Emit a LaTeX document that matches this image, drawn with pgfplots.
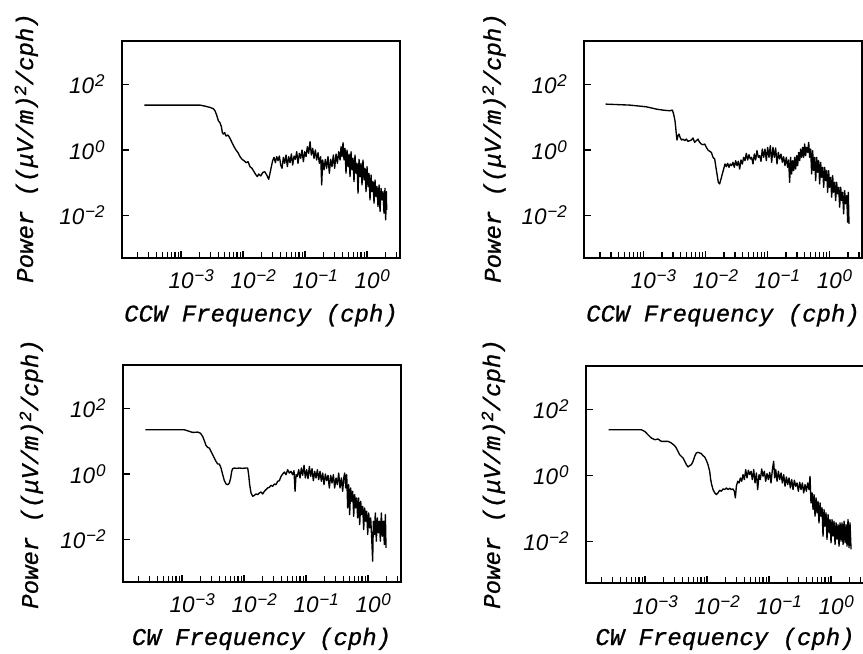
\documentclass[border=0pt]{standalone}
\usepackage{fontspec}
\setmainfont{Liberation Sans}
\newfontfamily\labfont{Liberation Mono}[FakeBold=0.9]
\usepackage{pgfplots}
\usepackage{pgfplotstable}
\pgfplotsset{compat=1.18}

\newcommand\xpw[1]{\mbox{\fontsize{22.5bp}{26bp}\selectfont\itshape 10\rlap{\kern0.8bp\raisebox{7bp}{\fontsize{17bp}{17bp}\selectfont #1}}}}
\newcommand\ypw[1]{\mbox{\fontsize{22.5bp}{26bp}\selectfont\itshape 10\kern0.8bp\raisebox{7bp}{\fontsize{17bp}{17bp}\selectfont #1}}}

\pgfplotsset{
  spec/.style={
    scale only axis, width=278bp, height=217bp, anchor=south west,
    xmin=-3.952, xmax=0.532, ymin=-3.27, ymax=3.32,
    axis line style={line width=1.7bp},
    tick pos=left, tick align=inside,
    xtick={-3,-2,-1,0},
    xticklabels={\xpw{−3},\xpw{−2},\xpw{−1},\xpw{0}},
    minor xtick={-3.699,-3.523,-3.398,-3.301,-3.222,-3.155,-3.097,-3.046,
                 -2.699,-2.523,-2.398,-2.301,-2.222,-2.155,-2.097,-2.046,
                 -1.699,-1.523,-1.398,-1.301,-1.222,-1.155,-1.097,-1.046,
                 -0.699,-0.523,-0.398,-0.301,-0.222,-0.155,-0.097,-0.046,
                 0.301,0.477},
    ytick={-2,0,2},
    yticklabels={\ypw{−2},\ypw{0},\ypw{2}},
    major tick length=7bp, minor tick length=6bp,
    every tick/.style={black, line width=1.2bp},
    xticklabel style={anchor=base},
    xticklabel shift=31bp,
    yticklabel style={anchor=base east, yshift=-9bp},
    yticklabel shift=14bp,
  },
  trace/.style={black, line width=1.35bp, line join=round},
}

% columns: lf = log10 frequency (cph), lp = log10 power
\pgfplotstableread{
lf lp
-3.591 1.364
-2.694 1.364
-2.613 1.333
-2.532 1.293
-2.478 1.253
-2.452 1.192
-2.425 1.061
-2.398 0.889
-2.371 0.828
-2.349 0.707
-2.333 0.525
-2.317 0.485
-2.296 0.525
-2.274 0.424
-2.242 0.455
-2.210 0.354
-2.177 0.222
-2.145 0.101
-2.113 0.000
-2.081 -0.081
-2.048 -0.202
-2.016 -0.283
-1.984 -0.323
-1.952 -0.384
-1.919 -0.354
-1.887 -0.505
-1.855 -0.556
-1.823 -0.657
-1.790 -0.758
-1.769 -0.808
-1.747 -0.727
-1.715 -0.788
-1.683 -0.687
-1.651 -0.657
-1.618 -0.758
-1.586 -0.889
-1.565 -0.707
-1.543 -0.505
-1.522 -0.323
-1.500 -0.222
-1.478 -0.384
-1.457 -0.202
-1.435 -0.323
-1.414 -0.182
-1.392 -0.455
-1.371 -0.556
-1.349 -0.222
-1.328 -0.404
-1.306 -0.152
-1.285 -0.505
-1.263 -0.202
-1.242 -0.384
-1.220 -0.121
-1.199 -0.455
-1.177 -0.182
-1.156 -0.283
-1.134 -0.051
-1.113 -0.404
-1.091 -0.101
-1.070 -0.253
-1.048 0.000
-1.027 -0.354
-1.005 -0.051
-0.984 -0.202
-0.962 0.101
-0.941 -0.101
-0.919 0.253
-0.898 -0.152
-0.876 0.051
-0.855 -0.253
-0.833 0.000
-0.812 -0.303
-0.790 -0.081
-0.769 -0.404
-0.747 -0.202
-0.731 -1.061
-0.715 -0.303
-0.694 -0.606
-0.672 -0.283
-0.651 -0.556
-0.629 -0.202
-0.608 -0.707
-0.586 -0.283
-0.565 -0.505
-0.543 -0.152
-0.522 -0.556
-0.500 -0.121
-0.478 -0.404
-0.457 -0.051
-0.435 -0.303
-0.419 0.101
-0.403 -0.202
-0.387 0.222
-0.371 -0.303
-0.355 0.051
-0.339 -0.707
-0.323 0.000
-0.306 -0.505
-0.290 -0.121
-0.274 -0.808
-0.258 -0.051
-0.242 -0.606
-0.226 -0.253
-0.210 -0.960
-0.194 -0.152
-0.177 -0.707
-0.161 -0.404
-0.145 -1.313
-0.129 -0.283
-0.113 -0.808
-0.097 -0.404
-0.081 -1.061
-0.065 -0.303
-0.048 -0.909
-0.032 -0.556
-0.016 -1.263
0.000 -0.505
0.016 -1.111
0.032 -0.707
0.048 -1.515
0.065 -0.758
0.081 -1.263
0.097 -0.960
0.113 -1.616
0.129 -0.909
0.145 -1.414
0.161 -1.111
0.177 -1.717
0.194 -1.061
0.210 -1.869
0.226 -1.162
0.242 -1.515
0.258 -1.263
0.274 -1.919
0.290 -1.162
0.301 -2.121
0.312 -1.263
0.317 -1.818
}\dataA

\pgfplotstableread{
lf lp
-3.608 1.394
-3.220 1.364
-2.952 1.313
-2.790 1.242
-2.683 1.212
-2.575 1.192
-2.532 1.212
-2.511 1.091
-2.489 0.889
-2.478 0.687
-2.468 0.485
-2.457 0.303
-2.441 0.434
-2.425 0.485
-2.403 0.364
-2.382 0.303
-2.360 0.333
-2.333 0.283
-2.306 0.333
-2.280 0.263
-2.253 0.283
-2.226 0.303
-2.199 0.364
-2.172 0.232
-2.145 0.283
-2.118 0.333
-2.091 0.232
-2.065 0.182
-2.038 0.162
-2.011 0.182
-1.984 0.081
-1.957 0.000
-1.930 -0.040
-1.903 -0.071
-1.876 -0.222
-1.849 -0.273
-1.833 -0.475
-1.812 -0.727
-1.790 -0.980
-1.769 -1.030
-1.747 -0.879
-1.726 -0.727
-1.704 -0.576
-1.683 -0.424
-1.661 -0.505
-1.640 -0.404
-1.618 -0.525
-1.597 -0.424
-1.575 -0.475
-1.554 -0.374
-1.532 -0.525
-1.511 -0.323
-1.489 -0.475
-1.468 -0.343
-1.446 -0.576
-1.425 -0.303
-1.403 -0.424
-1.382 -0.222
-1.360 -0.323
-1.339 -0.101
-1.317 -0.303
-1.296 -0.141
-1.274 -0.273
-1.253 -0.222
-1.231 -0.424
-1.210 -0.121
-1.188 -0.303
-1.167 -0.020
-1.145 -0.222
-1.124 -0.172
-1.102 -0.343
-1.081 0.030
-1.059 -0.222
-1.038 0.030
-1.016 -0.323
-0.995 0.081
-0.973 -0.222
-0.952 0.131
-0.930 -0.374
-0.909 0.081
-0.887 -0.222
-0.866 0.061
-0.844 -0.424
-0.823 -0.071
-0.801 -0.273
-0.780 -0.121
-0.758 -0.374
-0.737 -0.202
-0.715 -0.475
-0.694 -0.222
-0.672 -0.525
-0.656 -0.303
-0.640 -0.980
-0.624 -0.222
-0.608 -0.727
-0.591 -0.323
-0.575 -0.626
-0.559 -0.222
-0.543 -0.576
-0.527 -0.172
-0.511 -0.475
-0.495 -0.071
-0.478 -0.323
-0.462 0.030
-0.446 -0.222
-0.430 0.081
-0.414 -0.222
-0.398 0.182
-0.382 -0.172
-0.366 0.081
-0.349 -0.071
-0.333 0.232
-0.317 -0.222
-0.301 0.030
-0.285 -0.727
-0.269 -0.020
-0.253 -0.626
-0.237 -0.222
-0.220 -0.929
-0.204 -0.222
-0.188 -0.677
-0.172 -0.323
-0.156 -1.030
-0.140 -0.374
-0.124 -0.828
-0.108 -0.525
-0.091 -1.131
-0.075 -0.525
-0.059 -0.929
-0.043 -0.626
-0.027 -1.283
-0.011 -0.626
0.005 -1.131
0.022 -0.828
0.038 -1.434
0.054 -0.778
0.070 -1.283
0.086 -0.980
0.102 -1.535
0.118 -0.980
0.134 -1.333
0.151 -1.131
0.167 -1.737
0.183 -1.131
0.199 -1.535
0.215 -1.283
0.231 -1.939
0.247 -1.232
0.263 -1.636
0.280 -1.384
0.296 -2.192
0.306 -1.283
0.317 -2.242
}\dataB

\pgfplotstableread{
lf lp
-3.591 1.343
-2.962 1.343
-2.909 1.313
-2.828 1.263
-2.747 1.273
-2.704 1.242
-2.667 1.141
-2.640 1.010
-2.613 0.869
-2.586 0.808
-2.559 0.788
-2.532 0.687
-2.505 0.586
-2.478 0.485
-2.452 0.384
-2.425 0.303
-2.398 0.303
-2.371 0.182
-2.344 -0.020
-2.317 -0.202
-2.290 -0.303
-2.258 -0.323
-2.237 -0.273
-2.215 -0.121
-2.199 0.081
-2.183 0.162
-2.156 0.182
-2.118 0.172
-2.075 0.182
-2.022 0.172
-1.968 0.182
-1.941 0.182
-1.925 -0.020
-1.909 -0.323
-1.887 -0.576
-1.860 -0.677
-1.833 -0.646
-1.806 -0.606
-1.780 -0.626
-1.753 -0.576
-1.726 -0.545
-1.699 -0.606
-1.672 -0.525
-1.645 -0.475
-1.618 -0.424
-1.591 -0.404
-1.565 -0.343
-1.538 -0.374
-1.511 -0.303
-1.484 -0.323
-1.457 -0.222
-1.430 -0.202
-1.403 -0.071
-1.376 0.000
-1.349 0.061
-1.323 -0.020
-1.296 0.131
-1.269 0.030
-1.242 0.081
-1.215 -0.020
-1.194 0.101
-1.177 -0.525
-1.161 -0.020
-1.140 -0.071
-1.118 0.131
-1.097 -0.121
-1.075 0.182
-1.054 -0.040
-1.032 0.263
-1.011 -0.121
-0.989 0.131
-0.968 -0.141
-0.946 0.232
-0.925 -0.071
-0.903 0.162
-0.882 -0.202
-0.860 0.081
-0.839 -0.121
-0.817 0.131
-0.796 -0.172
-0.774 0.081
-0.753 -0.222
-0.731 0.030
-0.710 -0.323
-0.688 0.000
-0.667 -0.202
-0.645 -0.040
-0.624 -0.424
-0.602 -0.040
-0.581 -0.273
-0.559 -0.020
-0.538 -0.424
-0.516 -0.121
-0.495 -0.323
-0.473 0.030
-0.452 -0.424
-0.430 -0.121
-0.409 -0.525
-0.392 -0.121
-0.376 0.030
-0.360 -0.424
-0.344 -0.020
-0.328 -1.030
-0.312 -0.323
-0.296 -1.232
-0.280 -0.424
-0.263 -0.828
-0.247 -0.525
-0.231 -1.283
-0.215 -0.626
-0.199 -1.030
-0.183 -0.727
-0.167 -1.333
-0.151 -0.727
-0.134 -1.535
-0.118 -0.828
-0.102 -1.232
-0.086 -0.980
-0.070 -1.687
-0.054 -1.030
-0.038 -1.434
-0.022 -1.131
-0.005 -1.838
0.011 -1.182
0.027 -1.636
0.043 -1.333
0.059 -1.939
0.075 -2.646
0.086 -1.434
0.102 -1.838
0.118 -1.182
0.134 -2.040
0.151 -1.333
0.167 -1.788
0.183 -1.434
0.199 -2.040
0.215 -1.182
0.231 -1.889
0.247 -1.434
0.263 -2.141
0.280 -1.232
0.290 -2.242
}\dataC

\pgfplotstableread{
lf lp
-3.586 1.394
-3.059 1.394
-3.005 1.343
-2.952 1.242
-2.898 1.141
-2.844 1.091
-2.790 1.111
-2.737 1.040
-2.683 1.040
-2.629 1.040
-2.575 0.990
-2.522 0.909
-2.495 0.838
-2.468 0.737
-2.441 0.636
-2.414 0.586
-2.387 0.535
-2.360 0.434
-2.333 0.333
-2.306 0.263
-2.280 0.303
-2.253 0.333
-2.226 0.434
-2.199 0.586
-2.172 0.687
-2.145 0.707
-2.118 0.687
-2.091 0.667
-2.065 0.606
-2.038 0.566
-2.011 0.465
-1.984 0.333
-1.957 0.131
-1.941 -0.121
-1.925 -0.273
-1.903 -0.424
-1.876 -0.525
-1.849 -0.576
-1.823 -0.525
-1.796 -0.444
-1.769 -0.475
-1.742 -0.404
-1.715 -0.424
-1.688 -0.374
-1.661 -0.424
-1.634 -0.384
-1.608 -0.424
-1.581 -0.404
-1.559 -0.475
-1.543 -0.677
-1.527 -0.323
-1.505 -0.172
-1.484 -0.222
-1.462 -0.071
-1.441 -0.172
-1.419 0.030
-1.398 -0.121
-1.376 0.182
-1.355 -0.071
-1.333 0.162
-1.312 0.030
-1.290 0.131
-1.269 -0.121
-1.247 0.182
-1.226 -0.222
-1.204 0.081
-1.183 -0.424
-1.161 0.030
-1.140 -0.121
-1.118 0.202
-1.097 -0.020
-1.075 0.131
-1.054 -0.172
-1.032 0.061
-1.011 -0.121
-0.989 0.101
-0.968 -0.222
-0.946 0.182
-0.925 0.434
-0.909 -0.071
-0.892 0.182
-0.871 -0.172
-0.849 0.131
-0.828 -0.121
-0.806 0.081
-0.785 -0.222
-0.763 0.030
-0.742 -0.323
-0.720 -0.040
-0.699 -0.273
-0.677 -0.071
-0.656 -0.374
-0.634 -0.121
-0.613 -0.424
-0.591 -0.141
-0.570 -0.323
-0.548 -0.222
-0.527 -0.475
-0.505 -0.202
-0.484 -0.424
-0.462 -0.222
-0.441 -0.525
-0.419 -0.273
-0.398 -0.475
-0.376 -0.222
-0.355 -0.424
-0.339 -0.020
-0.323 -0.828
-0.306 -0.525
-0.290 -1.030
-0.274 -0.576
-0.258 -1.232
-0.242 -0.677
-0.226 -1.131
-0.210 -0.778
-0.194 -1.434
-0.177 -0.828
-0.161 -1.232
-0.145 -0.980
-0.129 -1.838
-0.113 -1.030
-0.097 -1.535
-0.081 -1.131
-0.065 -1.939
-0.048 -1.182
-0.032 -1.737
-0.016 -1.333
0.000 -2.040
0.016 -1.333
0.032 -1.838
0.048 -1.384
0.065 -2.091
0.081 -1.434
0.097 -1.939
0.113 -1.485
0.129 -2.141
0.145 -1.434
0.161 -1.990
0.177 -1.434
0.194 -2.091
0.210 -1.384
0.226 -2.040
0.242 -1.485
0.258 -2.141
0.274 -1.333
0.290 -2.192
0.306 -1.434
0.323 -2.242
}\dataD

\newcommand\ylab{Power ((μV/m)\raisebox{7bp}{\fontsize{17bp}{17bp}\selectfont 2}/cph)}

\begin{document}
\begin{tikzpicture}
\path[use as bounding box] (0bp,0bp) rectangle (863bp,654bp);

\begin{axis}[spec, at={(122bp,396.3bp)}]
  \addplot[trace] table[x=lf,y=lp]{\dataA};
\end{axis}
\begin{axis}[spec, at={(584.3bp,396.3bp)}]
  \addplot[trace] table[x=lf,y=lp]{\dataB};
\end{axis}
\begin{axis}[spec, at={(123bp,72.3bp)}]
  \addplot[trace] table[x=lf,y=lp]{\dataC};
\end{axis}
\begin{axis}[spec, at={(586bp,70.7bp)}]
  \addplot[trace] table[x=lf,y=lp]{\dataD};
\end{axis}

\tikzset{lab/.style={font=\labfont\fontsize{24bp}{28bp}\selectfont\itshape, inner sep=0pt}}
\node[lab, anchor=base] at (261bp,332.5bp) {CCW Frequency (cph)};
\node[lab, anchor=base] at (723bp,332.5bp) {CCW Frequency (cph)};
\node[lab, anchor=base] at (261.5bp,9bp) {CW Frequency (cph)};
\node[lab, anchor=base] at (725bp,9bp) {CW Frequency (cph)};

\node[lab, anchor=base, rotate=90] at (33bp,506bp) {\ylab};
\node[lab, anchor=base, rotate=90] at (500.7bp,506bp) {\ylab};
\node[lab, anchor=base, rotate=90] at (38bp,180bp) {\ylab};
\node[lab, anchor=base, rotate=90] at (500bp,180bp) {\ylab};
\end{tikzpicture}
\end{document}
